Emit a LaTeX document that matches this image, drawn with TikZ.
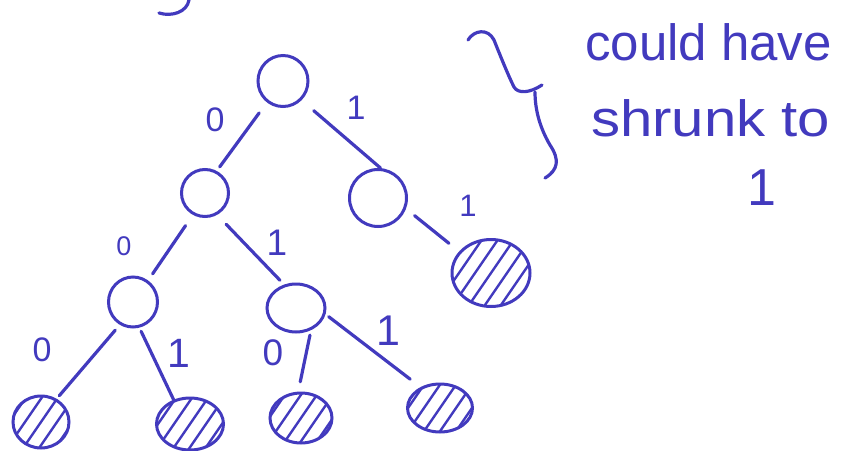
\documentclass[tikz,border=0pt]{standalone}
\usepackage{fontspec}
\setmainfont{Liberation Sans}
\usetikzlibrary{shapes.geometric}
\definecolor{ink}{RGB}{66,58,190}
\begin{document}
\begin{tikzpicture}[x=1pt,y=-1pt,
  nd/.style={ellipse, draw=ink, line width=3pt, inner sep=0pt},
  leafnd/.style={nd, path picture={
      \foreach \d in {-64,-48,...,64}
        \draw[ink, line width=2.4pt, line cap=round]
          ([xshift=\d pt]path picture bounding box.center) ++(-22pt,-32pt) -- ++(44pt,64pt);
    }},
  edge/.style={draw=ink, line width=3.2pt, line cap=round},
  stroke/.style={draw=ink, line width=3.2pt, line cap=round, line join=round},
  lbl/.style={text=ink, inner sep=0pt, font=\fontsize{34}{34}\selectfont},
  txt/.style={text=ink, inner sep=0pt, anchor=base west, font=\fontsize{51}{52}\selectfont},
]
\useasboundingbox (0,0) rectangle (841,450);

% tree nodes
\node[nd, minimum width=50pt, minimum height=51pt] (root) at (283,81) {};
\node[nd, minimum width=47pt, minimum height=47pt] (L) at (205,193) {};
\node[nd, minimum width=57pt, minimum height=57pt] (R) at (378,198) {};
\node[nd, minimum width=49pt, minimum height=50pt] (LL) at (133,302) {};
\node[nd, minimum width=58pt, minimum height=48pt] (LR) at (296,308) {};
\node[leafnd, minimum width=78pt, minimum height=67pt] (RR) at (491,273) {};
\node[leafnd, minimum width=56pt, minimum height=52pt] (A) at (41,422) {};
\node[leafnd, minimum width=67pt, minimum height=52pt] (B) at (190,424) {};
\node[leafnd, minimum width=62pt, minimum height=50pt] (C) at (301,418) {};
\node[leafnd, minimum width=65pt, minimum height=48pt] (D) at (440,408) {};

% connectors
\draw[edge, shorten <=13pt, shorten >=5pt] (root.233) -- (L.62);
\draw[edge, shorten <=16pt, shorten >=0pt] (root.314) -- (R.85);
\draw[edge, shorten <=13pt, shorten >=8pt] (L.241) -- (LL.55);
\draw[edge, shorten <=13pt, shorten >=6pt] (L.299) -- (LR.117);
\draw[edge, shorten <=11pt, shorten >=13pt] (R.339) -- (RR.146);
\draw[edge, shorten <=7pt, shorten >=4pt] (LL.240) -- (A.56);
\draw[edge, shorten <=4pt, shorten >=0pt] (LL.284) -- (B.124);
\draw[edge, shorten <=5pt, shorten >=10pt] (LR.304) -- (C.96);
\draw[edge, shorten <=4pt, shorten >=13pt] (LR.348) -- (D.133);

% edge labels
\node[lbl] (l0a) at (215,120) {0};
\node[lbl] (l1a) at (356,108) {1};
\node[lbl, font=\fontsize{27}{27}\selectfont] (l0b) at (124,246) {0};
\node[lbl, font=\fontsize{37}{37}\selectfont] (l1b) at (277,243) {1};
\node[lbl, font=\fontsize{31}{31}\selectfont] (l1c) at (468,206) {1};
\node[lbl] (l0c) at (42,350) {0};
\node[lbl, font=\fontsize{41}{41}\selectfont] (l1d) at (179,353) {1};
\node[lbl, font=\fontsize{37}{37}\selectfont] (l0d) at (273,353) {0};
\node[lbl, font=\fontsize{43}{43}\selectfont] (l1e) at (388,331) {1};

% brace
\draw[stroke] (468,40) .. controls (474,30) and (488,28) .. (494,40)
  .. controls (500,55) and (508,75) .. (514,87)
  .. controls (518,94) and (530,93) .. (542,85);
\draw[stroke] (535,92) .. controls (535,110) and (540,128) .. (550,145)
  .. controls (560,160) and (558,170) .. (545,178);

% fragment at the top edge
\draw[stroke] (159,13) .. controls (172,17) and (187,12) .. (189,0);

% side note
\node[txt] (t1) at (585,60) {could have};
\node[txt] (t2) at (591,136) {\scalebox{1.14}[1]{shrunk to}};
\node[lbl, font=\fontsize{52}{52}\selectfont] (one) at (762,188) {1};
\end{tikzpicture}
\end{document}
